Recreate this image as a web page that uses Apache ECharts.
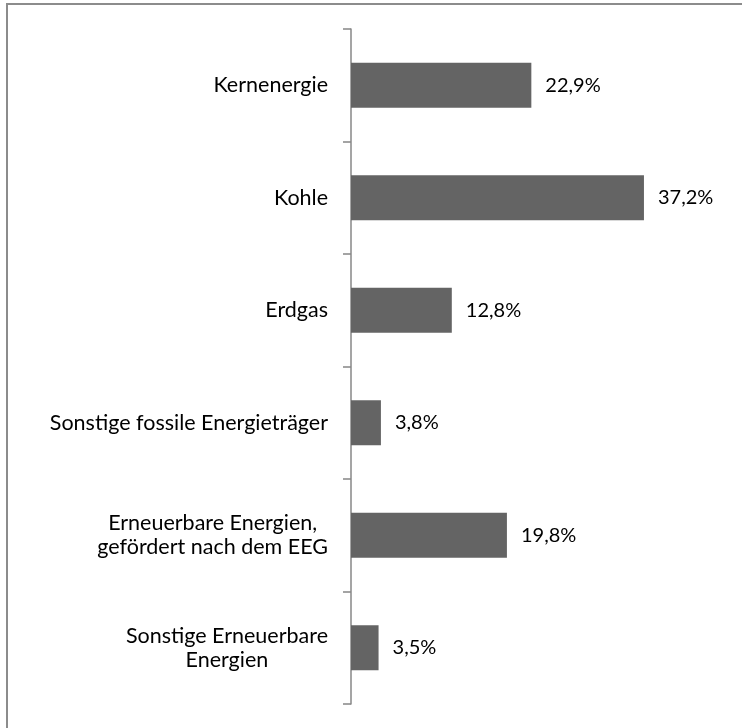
<!DOCTYPE html>
<html>
<head>
<meta charset="utf-8">
<script src="https://cdn.jsdelivr.net/npm/echarts@6/dist/echarts.min.js"></script>
<style>
  html, body { margin: 0; padding: 0; background: #fff; }
  #chartBox { width: 742px; height: 728px; }
</style>
</head>
<body>
<div id="chartBox"></div>
<script>
// Energieträger, von oben nach unten
const categories = [
  "Kernenergie",
  "Kohle",
  "Erdgas",
  "Sonstige fossile Energieträger",
  "Erneuerbare Energien,\ngefördert nach dem EEG",
  "Sonstige Erneuerbare\nEnergien",
];
const shares = [22.9, 37.2, 12.8, 3.8, 19.8, 3.5];

const fontFamily = "Lato, 'Open Sans', sans-serif";

const chartFun = () => {
  const chartDom = document.getElementById("chartBox");
  const myChart = echarts.init(chartDom);
  const option = {
    animation: false,
    textStyle: { fontFamily: fontFamily },
    graphic: [
      {
        type: "rect",
        shape: { x: 7, y: 4, width: 1000, height: 1000 },
        style: { fill: "none", stroke: "#8c8c8c", lineWidth: 2 },
        silent: true,
      },
    ],
    grid: {
      left: 351,
      right: 76,
      top: 29,
      bottom: 24,
      containLabel: false,
    },
    xAxis: {
      type: "value",
      min: 0,
      max: 40,
      show: false,
    },
    yAxis: {
      type: "category",
      inverse: true,
      data: categories,
      axisLine: { show: true, lineStyle: { color: "#878787", width: 1.5 } },
      axisTick: { show: true, inside: false, length: 8, lineStyle: { color: "#878787", width: 1.5 } },
      axisLabel: {
        margin: 23,
        color: "#000",
        fontSize: 21.5,
        fontFamily: fontFamily,
        lineHeight: 24,
        formatter: function (v) {
          return v
            .split("\n")
            .map(function (s) { return "{c|" + s + "}"; })
            .join("\n");
        },
        rich: {
          c: { align: "center", fontSize: 21.5, lineHeight: 24, color: "#000", fontFamily: fontFamily },
        },
      },
    },
    series: [
      {
        type: "bar",
        data: shares,
        barWidth: "40%",
        itemStyle: { color: "#646464" },
        label: {
          show: true,
          position: "right",
          distance: 14,
          color: "#000",
          fontSize: 20,
          fontFamily: fontFamily,
          formatter: function (p) {
            return p.value.toFixed(1).replace(".", ",") + "%";
          },
        },
      },
    ],
  };
  myChart.setOption(option);
};

chartFun();
</script>
</body>
</html>
